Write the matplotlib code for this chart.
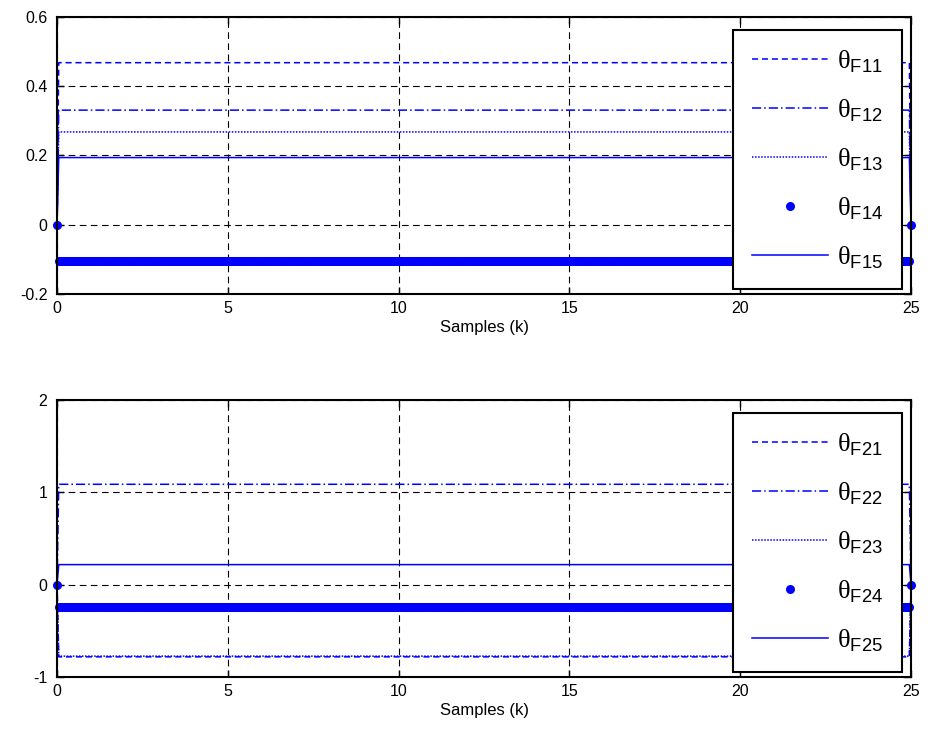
import matplotlib
matplotlib.use('Agg')
import matplotlib.pyplot as plt
from matplotlib.ticker import FormatStrFormatter
import numpy as np

# instantes de amostragem (k)
k = np.arange(0, 25.0 + 1e-9, 0.05)

# valores em regime de cada parametro
theta_f1 = [0.468, 0.331, 0.268, -0.104, 0.194]
theta_f2 = [-0.782, 1.087, -0.774, -0.246, 0.217]
labels_f1 = ['F11', 'F12', 'F13', 'F14', 'F15']
labels_f2 = ['F21', 'F22', 'F23', 'F24', 'F25']

plt.rcParams['font.family'] = ['Liberation Sans', 'DejaVu Sans']
plt.rcParams['mathtext.fontset'] = 'custom'
plt.rcParams['mathtext.rm'] = 'Liberation Serif'
plt.rcParams['mathtext.sf'] = 'Liberation Sans'

styles = [
    dict(linestyle=(0, (4, 2.5)), lw=1.1),
    dict(linestyle=(0, (6, 2, 1, 2)), lw=1.1),
    dict(linestyle=(0, (1, 1)), lw=1.1),
    dict(linestyle='none', marker='o', markersize=6.5, clip_on=False),
    dict(linestyle='-', lw=1.1),
]


def serie(v):
    y = np.full(len(k), v, dtype=float)
    y[0] = 0
    y[-1] = 0
    return y


fig = plt.figure(figsize=(9.35, 7.45), dpi=100)
ax1 = fig.add_axes([0.0610, 0.6054, 0.9134, 0.3718])
ax2 = fig.add_axes([0.0610, 0.0913, 0.9134, 0.3718])

for ax, vals, labs, ylim, yt in [
    (ax1, theta_f1, labels_f1, (-0.2, 0.6), [-0.2, 0, 0.2, 0.4, 0.6]),
    (ax2, theta_f2, labels_f2, (-1, 2), [-1, 0, 1, 2]),
]:
    for v, lab, st in zip(vals, labs, styles):
        ax.plot(k, serie(v), color='blue', markeredgewidth=0,
                label=r'$\mathrm{\theta}_{\mathsf{%s}}$' % lab, **st)
    ax.set_xlim(0, 25)
    ax.set_ylim(*ylim)
    ax.set_xticks([0, 5, 10, 15, 20, 25])
    ax.set_yticks(yt)
    ax.yaxis.set_major_formatter(FormatStrFormatter('%g'))
    ax.grid(True, color='black', linestyle=(0, (6, 4)), linewidth=0.8)
    ax.set_axisbelow(True)
    for s in ax.spines.values():
        s.set_linewidth(1.5)
    ax.tick_params(direction='in', top=True, right=True, length=5, width=1,
                   labelsize=11.5)
    ax.tick_params(axis='x', pad=5)
    ax.tick_params(axis='y', pad=7)
    ax.set_xlabel('Samples (k)', fontsize=12, labelpad=3)
    leg = ax.legend(loc='upper right', bbox_to_anchor=(0.9895, 0.953),
                    borderaxespad=0, fontsize=19, handlelength=2.9,
                    handletextpad=0.35, labelspacing=0.85, borderpad=0.7,
                    fancybox=False, framealpha=1, edgecolor='black')
    leg.get_frame().set_linewidth(1.5)

plt.savefig('out.png', dpi=100)
